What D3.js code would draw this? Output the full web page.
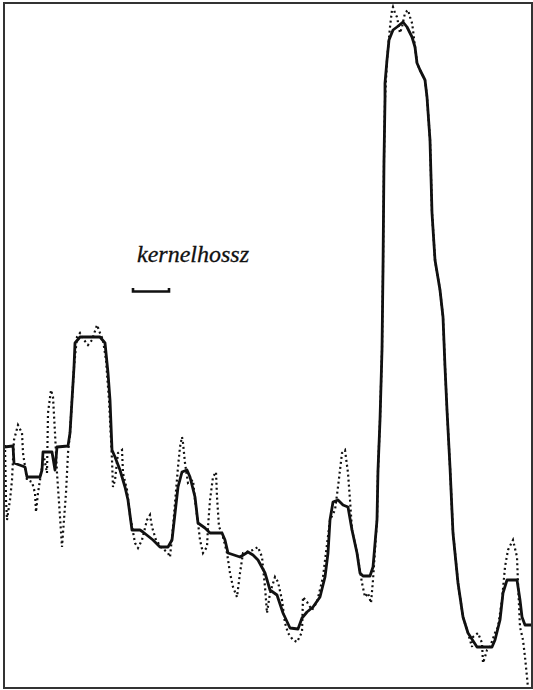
<!DOCTYPE html>
<html>
<head>
<meta charset="utf-8">
<script src="https://cdn.jsdelivr.net/npm/d3@7"></script>
<style>
  html, body { margin: 0; padding: 0; background: #fff; }
  svg { display: block; }
</style>
</head>
<body>
<svg id="chart"></svg>
<script>
// profile along the sample (position, intensity) - smoothed
const smoothed = [
  [0,241],[9,242],[10,225],[21,221],[23,211],[36,211],[38,218],[39,236],[48,236],[51,218],
  [53,241],[64,242],[66,255],[70,321],[71,345],[76,351],[96,351],[101,345],[104,315],[106,288],
  [108,238],[111,231],[116,218],[121,201],[124,188],[128,158],[136,158],[139,156],[149,148],[156,141],
  [164,141],[168,148],[174,201],[178,216],[183,218],[186,211],[191,191],[194,165],[201,160],[206,155],
  [218,155],[221,148],[224,135],[236,131],[244,136],[249,133],[254,128],[261,115],[266,98],[273,93],
  [279,75],[286,60],[294,59],[298,70],[303,76],[309,81],[316,91],[321,111],[324,135],[326,168],
  [329,186],[334,188],[339,183],[344,181],[348,158],[353,135],[356,115],[359,112],[366,112],[369,121],
  [373,168],[374,218],[376,268],[378,338],[379,418],[380,528],[381,588],[381,605],[383,628],[385,648],
  [389,658],[393,661],[399,666],[403,661],[408,651],[411,641],[413,625],[416,618],[421,608],[423,591],
  [426,548],[428,475],[431,428],[436,398],[439,371],[441,321],[443,278],[446,221],[449,155],[454,105],
  [459,71],[464,55],[473,41],[488,41],[491,48],[496,68],[499,95],[503,108],[513,108],[516,88],
  [518,71],[521,63],[527,63]
];

// raw profile (dotted)
const raw = [
  [1,243],[2,188],[3,168],[4,175],[6,188],[8,208],[10,248],[14,263],[18,255],[19,235],
  [23,208],[28,206],[31,195],[32,176],[34,195],[38,221],[40,231],[43,215],[44,275],[47,298],
  [49,291],[51,255],[53,215],[56,171],[58,141],[59,155],[62,195],[64,235],[66,255],[70,321],
  [73,351],[76,355],[80,348],[84,343],[88,348],[93,363],[96,355],[99,348],[102,328],[105,288],
  [108,228],[109,201],[111,208],[114,235],[118,238],[119,215],[123,198],[126,173],[131,145],[134,140],
  [138,148],[143,168],[146,173],[148,161],[152,148],[158,140],[164,135],[166,131],[169,161],[174,221],
  [176,241],[178,251],[179,245],[181,225],[184,205],[189,208],[191,188],[194,165],[196,148],[199,135],
  [203,141],[204,161],[206,188],[209,211],[212,216],[213,191],[215,161],[218,155],[223,135],[226,115],
  [229,101],[233,91],[236,115],[239,135],[249,138],[254,141],[258,131],[261,101],[263,75],[266,95],
  [271,111],[274,106],[278,88],[281,65],[284,55],[289,48],[293,46],[298,56],[299,91],[303,86],
  [308,78],[313,86],[319,111],[326,168],[331,178],[334,201],[338,235],[341,238],[344,215],[346,188],
  [348,158],[353,135],[358,105],[361,91],[364,95],[367,85],[369,108],[373,168],[374,218],[376,268],
  [378,338],[379,418],[380,528],[381,588],[383,628],[386,661],[388,678],[389,681],[391,675],[393,671],
  [396,655],[398,661],[401,675],[404,678],[406,671],[408,665],[409,658],[411,641],[413,625],[416,618],
  [421,608],[423,591],[426,548],[428,475],[431,428],[436,398],[439,371],[441,321],[443,278],[446,221],
  [449,155],[454,105],[459,71],[464,55],[468,41],[469,51],[474,55],[478,45],[479,25],[481,31],
  [483,38],[486,41],[491,55],[494,61],[498,88],[501,121],[504,138],[509,148],[513,131],[514,105],
  [516,61],[519,48],[521,31],[523,11],[524,0]
];

const kernelLabel = 'kernelhossz';
const kernelStart = 129;
const kernelLength = 36;

const width = 533;
const height = 690;
const box = { left: 4, top: 3, right: 532, bottom: 688 };

const svg = d3.select('#chart')
  .attr('width', width)
  .attr('height', height);

const x = d3.scaleLinear()
  .domain([0, 528])
  .range([box.left, box.right]);

const y = d3.scaleLinear()
  .domain([0, 685])
  .range([box.bottom, box.top]);

svg.append('clipPath')
  .attr('id', 'clip')
  .append('rect')
  .attr('x', box.left)
  .attr('y', box.top)
  .attr('width', box.right - box.left)
  .attr('height', box.bottom - box.top);

const line = d3.line()
  .x(d => x(d[0]))
  .y(d => y(d[1]));

const plot = svg.append('g').attr('clip-path', 'url(#clip)');

plot.append('path')
  .datum(raw)
  .attr('fill', 'none')
  .attr('stroke', '#111')
  .attr('stroke-width', 2.2)
  .attr('stroke-dasharray', '2,3')
  .attr('d', line);

plot.append('path')
  .datum(smoothed)
  .attr('fill', 'none')
  .attr('stroke', '#111')
  .attr('stroke-width', 2.8)
  .attr('stroke-linejoin', 'round')
  .attr('d', line);

// frame
svg.append('rect')
  .attr('x', box.left)
  .attr('y', box.top)
  .attr('width', box.right - box.left)
  .attr('height', box.bottom - box.top)
  .attr('fill', 'none')
  .attr('stroke', '#333')
  .attr('stroke-width', 2);

// kernel length marker
svg.append('text')
  .attr('x', x(kernelStart) + 4)
  .attr('y', 262)
  .attr('font-family', '"Liberation Serif", "Times New Roman", serif')
  .attr('font-style', 'italic')
  .attr('font-size', 24)
  .attr('stroke', '#111')
  .attr('stroke-width', 0.3)
  .attr('fill', '#111')
  .text(kernelLabel);

const x0 = x(kernelStart);
const x1 = x(kernelStart + kernelLength);
svg.append('path')
  .attr('d', `M${x0},288V291.5H${x1}V288`)
  .attr('fill', 'none')
  .attr('stroke', '#111')
  .attr('stroke-width', 2.6);
</script>
</body>
</html>
